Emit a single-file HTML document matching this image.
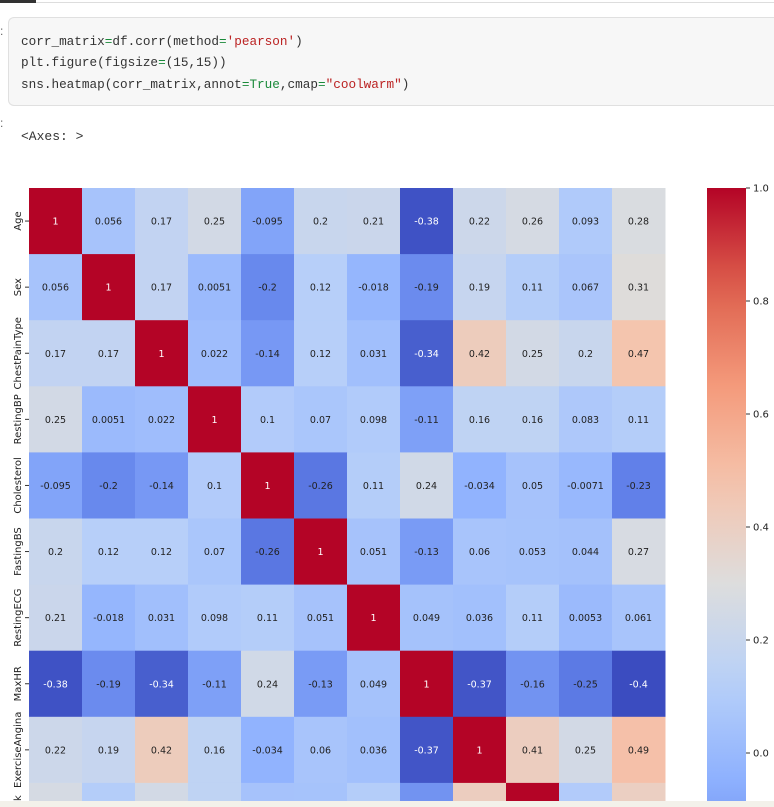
<!DOCTYPE html>
<html><head><meta charset="utf-8">
<style>
html,body{margin:0;width:774px;height:807px;overflow:hidden}
body{background:#fff;font-family:"Liberation Sans",sans-serif;position:relative}
.code{position:absolute;left:8px;top:17px;width:766px;height:89px;background:#f7f7f7;border:1px solid #e0e0e0;border-right:none;border-radius:6px 0 0 6px;box-sizing:border-box}
.code pre{margin:0;position:absolute;left:12px;top:13px;font-family:"Liberation Mono",monospace;font-size:12.7px;line-height:21.3px;color:#333}
.s{color:#b22}.k{color:#1a8a3a}.o{color:#1a8a3a}
</style></head><body>
<div style="position:absolute;left:0;top:0;width:36px;height:3px;background:#333"></div>
<div style="position:absolute;left:36px;top:2px;width:738px;height:1px;background:#ddd"></div>
<div style="position:absolute;left:0;top:24px;font-size:12px;color:#666">:</div>
<div class="code"><pre>corr_matrix<span class="o">=</span>df.corr(method<span class="o">=</span><span class="s">'pearson'</span>)
plt.figure(figsize<span class="o">=</span>(15,15))
sns.heatmap(corr_matrix,annot<span class="o">=</span><span class="k">True</span>,cmap<span class="o">=</span><span class="s">"coolwarm"</span>)</pre></div>
<div style="position:absolute;left:0;top:116px;font-size:12px;color:#666">:</div>
<div style="position:absolute;left:21px;top:129px;font-family:'Liberation Mono',monospace;font-size:13px;color:#333">&lt;Axes: &gt;</div>
<svg id="chart" width="774" height="801" style="position:absolute;left:0;top:0;overflow:hidden"></svg>
<div style="position:absolute;left:0;top:801px;width:774px;height:6px;background:#f3f1ea"></div>
<script>
const labels=["Age","Sex","ChestPainType","RestingBP","Cholesterol","FastingBS","RestingECG","MaxHR","ExerciseAngina","Oldpeak","ST_Slope","HeartDisease"];
const row0=[1,0.056,0.17,0.25,-0.095,0.2,0.21,-0.38,0.22,0.26,0.093,0.28];
const row1=[0.056,1,0.17,0.0051,-0.2,0.12,-0.018,-0.19,0.19,0.11,0.067,0.31];
const row2=[0.17,0.17,1,0.022,-0.14,0.12,0.031,-0.34,0.42,0.25,0.2,0.47];
const row3=[0.25,0.0051,0.022,1,0.1,0.07,0.098,-0.11,0.16,0.16,0.083,0.11];
const row4=[-0.095,-0.2,-0.14,0.1,1,-0.26,0.11,0.24,-0.034,0.05,-0.0071,-0.23];
const row5=[0.2,0.12,0.12,0.07,-0.26,1,0.051,-0.13,0.06,0.053,0.044,0.27];
const row6=[0.21,-0.018,0.031,0.098,0.11,0.051,1,0.049,0.036,0.11,0.0053,0.061];
const row7=[-0.38,-0.19,-0.34,-0.11,0.24,-0.13,0.049,1,-0.37,-0.16,-0.25,-0.4];
const row8=[0.22,0.19,0.42,0.16,-0.034,0.06,0.036,-0.37,1,0.41,0.25,0.49];
const row9=[0.26,0.11,0.25,0.16,0.05,0.053,0.11,-0.16,0.41,1,0.1,0.4];
const rows=[row0,row1,row2,row3,row4,row5,row6,row7,row8,row9];
const cbTicks=[1.0,0.8,0.6,0.4,0.2,0.0];
const vmin=-0.4,vmax=1.0;
const X0=29,Y0=188,CW=53,CH=66.1;
const xPos=i=>X0+i*CW, yPos=j=>Y0+j*CH;
const stops=[[59,76,192],[98,130,234],[141,176,254],[184,208,249],[221,221,221],[245,196,173],[244,154,123],[222,96,77],[180,4,38]];
function cmap(v){let t=Math.max(0,Math.min(1,(v-vmin)/(vmax-vmin)))*8;let i=Math.min(7,Math.floor(t)),f=t-i;const a=stops[i],b=stops[i+1];
 return a.map((x,k)=>Math.round(x+(b[k]-x)*f));}
const ns="http://www.w3.org/2000/svg";const svg=document.getElementById('chart');
function mk(t,at){const e=document.createElementNS(ns,t);for(const k in at)e.setAttribute(k,at[k]);svg.appendChild(e);return e;}
function fmt(v){return v===1?"1":String(v);}
rows.forEach((r,j)=>{r.forEach((v,i)=>{const c=cmap(v);
 const rect=mk('rect',{x:xPos(i),y:yPos(j),width:CW+0.5,height:Math.min(CH+0.5,801-yPos(j)),fill:`rgb(${c})`});
 
 
 const lum=(0.2126*c[0]+0.7152*c[1]+0.0722*c[2])/255;
 if(yPos(j)+CH/2<801){
 const t=mk('text',{x:xPos(i)+CW/2,y:yPos(j)+CH/2+3.5,'text-anchor':'middle','font-family':'DejaVu Sans,sans-serif','font-size':'9.5',fill:lum<0.45?'#fff':'#222'});
 t.textContent=fmt(v);
 
 }});
 const ty=yPos(j)+CH/2;
 const tk=mk('line',{x1:25,x2:29,y1:ty,y2:ty,stroke:'#333','stroke-width':1});
 
 
 const lb=mk('text',{x:0,y:0,transform:`translate(21,${ty}) rotate(-90)`,'text-anchor':'middle','font-family':'DejaVu Sans,sans-serif','font-size':'10',fill:'#222'});
 lb.textContent=labels[j];
 
 
});
const CBX=707,CBW=39,cbY=v=>188+(1-v)*565;
const g=document.createElementNS(ns,'linearGradient');g.setAttribute('id','cb');g.setAttribute('x1','0');g.setAttribute('y1','0');g.setAttribute('x2','0');g.setAttribute('y2','1');g.setAttribute('gradientUnits','userSpaceOnUse');
g.setAttribute('x1',0);g.setAttribute('x2',0);g.setAttribute('y1',cbY(vmax));g.setAttribute('y2',cbY(vmin));
const defs=mk('defs',{});defs.appendChild(g);
for(let k=0;k<=20;k++){const v=vmax-(vmax-vmin)*k/20;const s=document.createElementNS(ns,'stop');s.setAttribute('offset',k/20);s.setAttribute('stop-color',`rgb(${cmap(v)})`);g.appendChild(s);}
const cb=mk('rect',{x:CBX,y:cbY(vmax),width:CBW,height:801-cbY(vmax),fill:'url(#cb)'});


cbTicks.forEach(v=>{const y=cbY(v);
 const l=mk('line',{x1:CBX+CBW,x2:CBX+CBW+4,y1:y,y2:y,stroke:'#333'});
 
 
 const t=mk('text',{x:CBX+CBW+7,y:y+3.5,'font-family':'DejaVu Sans,sans-serif','font-size':'10',fill:'#222'});
 t.textContent=v.toFixed(1);
 
 });
</script>
</body></html>
